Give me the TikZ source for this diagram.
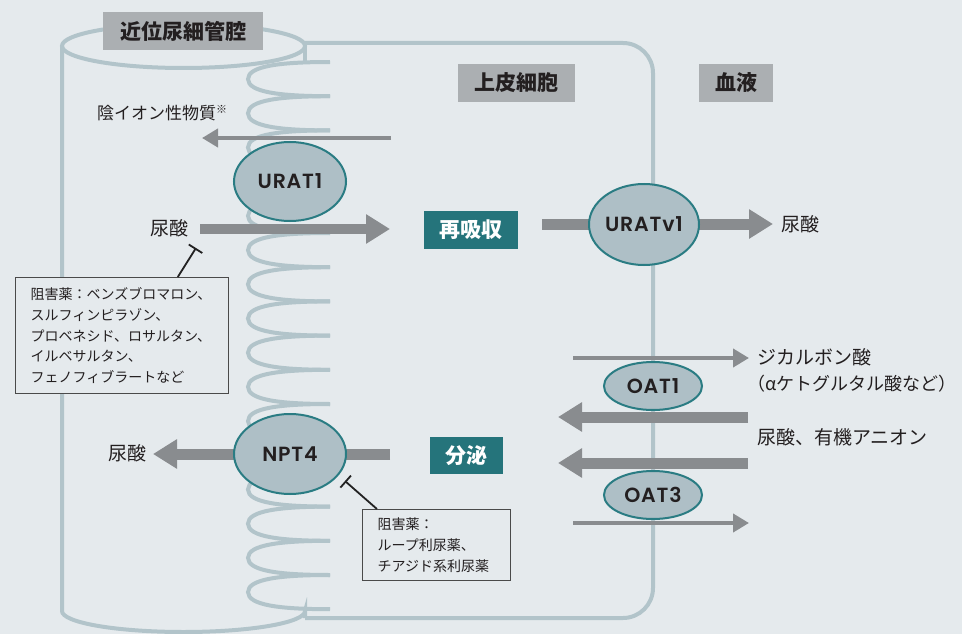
\documentclass[tikz,border=0pt]{standalone}
\usepackage{fontspec}
\setmainfont{Noto Sans CJK JP}
\newfontfamily\latf{Poppins SemiBold}[LetterSpace=4]
\usetikzlibrary{arrows.meta,shapes.geometric,calc}

\definecolor{bgc}{HTML}{E5EAED}
\definecolor{structc}{HTML}{B2C4CA}
\definecolor{ellfill}{HTML}{AEBFC6}
\definecolor{elline}{HTML}{2A7C83}
\definecolor{arrg}{HTML}{898C8F}
\definecolor{labg}{HTML}{ABAFB2}
\definecolor{tealc}{HTML}{25747B}
\definecolor{txt}{HTML}{231F20}
\definecolor{boxline}{HTML}{4A4A4A}
\definecolor{inhc}{HTML}{222222}

\tikzset{
  structline/.style={draw=structc, line width=4pt},
  thinarr/.style={draw=arrg, line width=4pt, -{Triangle[length=16pt,width=18pt]}},
  thickarr/.style={draw=arrg, line width=11pt, -{Triangle[length=24pt,width=28pt]}},
  transporter/.style={ellipse, draw=elline, line width=2pt, fill=ellfill, inner sep=0pt,
    text=txt, font=\latf\fontsize{20.5}{20.5}\selectfont},
  hdr/.style={fill=labg, text=txt, inner sep=0pt, minimum height=38pt,
    font=\fontsize{21}{21}\selectfont\bfseries},
  procbox/.style={fill=tealc, text=white, inner sep=0pt, minimum height=38pt,
    font=\fontsize{21}{21}\selectfont\bfseries},
  lbl/.style={text=txt, inner sep=0pt, font=\fontsize{19}{26}\selectfont},
  inhbox/.style={draw=boxline, line width=1.2pt, fill=bgc, align=left, text=txt,
    inner xsep=15pt, inner ysep=6pt, font=\fontsize{14}{20.7}\selectfont},
  inhib/.style={draw=inhc, line width=1.8pt, -{Bar[width=16pt,line width=1.8pt]}}
}

\begin{document}
\begin{tikzpicture}[x=1pt,y=-1pt]
\useasboundingbox (0,0) rectangle (962,634);
\fill[bgc] (0,0) rectangle (962,634);

% proximal tubule lumen (cylinder)
\draw[structline] (183.5,46) ellipse[x radius=121.5, y radius=22];
\draw[structline] (62,46) -- (62,611)
  arc[start angle=180, end angle=0, x radius=121.5, y radius=21] -- (305,618);
\draw[structline] (305,46) -- (305,62);

% epithelial cell outline
\draw[structline, rounded corners=30pt] (305,43) -- (653,43) -- (653,618) -- (305,618);

% brush border (microvilli)
\foreach \k in {0,...,15} {
  \pgfmathsetmacro\ya{62+34.2*\k}
  \pgfmathsetmacro\yb{\ya+34.2}
  \pgfmathsetmacro\ym{\ya+17.1}
  \draw[structline] (330,\ya) .. controls (280,\ya) and (248,\ya+4) .. (248,\ym)
     .. controls (248,\yb-4) and (280,\yb) .. (330,\yb);
}

% arrow end points
\coordinate (anS) at (391,138);  \coordinate (anE) at (202,138);
\coordinate (uaS) at (200,229);  \coordinate (uaE) at (390,229);
\coordinate (uvS) at (542,224);  \coordinate (uvE) at (773,224);
\coordinate (npS) at (390,454);  \coordinate (npE) at (153,454);
\coordinate (o1S) at (573,358);  \coordinate (o1E) at (749,358);
\coordinate (o2S) at (748,417);  \coordinate (o2E) at (558,417);
\coordinate (o3S) at (748,463);  \coordinate (o3E) at (558,463);
\coordinate (o4S) at (573,523);  \coordinate (o4E) at (749,523);

\draw[thinarr] (anS) -- (anE);
\draw[thickarr, line width=10pt] (uaS) -- (uaE);
\draw[thickarr] (uvS) -- (uvE);
\draw[thickarr] (npS) -- (npE);
\draw[thinarr] (o1S) -- (o1E);
\draw[thickarr] (o2S) -- (o2E);
\draw[thickarr] (o3S) -- (o3E);
\draw[thinarr] (o4S) -- (o4E);

% transporters
\node[transporter, minimum width=112pt, minimum height=79pt] (urat1) at (290,181.5) {URAT1};
\node[transporter, minimum width=110pt, minimum height=81pt] (uratv1) at (644,224.5) {URATv1};
\node[transporter, minimum width=112pt, minimum height=80pt] (npt4) at (290,454) {NPT4};
\node[transporter, minimum width=98pt, minimum height=48pt] (oat1) at (653,386) {OAT1};
\node[transporter, minimum width=98pt, minimum height=48pt] (oat3) at (653,495) {OAT3};

% region headings
\node[hdr, minimum width=160pt] (lumen) at (183,31) {近位尿細管腔};
\node[hdr, minimum width=117pt] (cell) at (516.5,83) {上皮細胞};
\node[hdr, minimum width=74pt] (blood) at (736,83) {血液};

% processes
\node[procbox, minimum width=94pt] (reabs) at (471,230) {再吸収};
\node[procbox, minimum width=73pt, minimum height=37pt] (secr) at (466.5,455.5) {分泌};

% substrate labels
\node[lbl, anchor=west, font=\fontsize{17}{17}\selectfont] (anion) at (97,113)
  {陰イオン性物質\raisebox{6pt}{\fontsize{11}{11}\selectfont ※}};
\node[lbl, anchor=east] (ualeft) at (189,228) {尿酸};
\node[lbl, anchor=west] (uaright) at (781,224) {尿酸};
\node[lbl, anchor=east] (uanpt) at (147,453) {尿酸};
\node[lbl, anchor=west, align=left] (dicarb) at (757,370)
  {ジカルボン酸\\{\fontsize{18}{26}\selectfont\kern-10pt（αケトグルタル酸など）\kern-8pt}};
\node[lbl, anchor=west] (organ) at (757,437) {尿酸、有機アニオン};

% inhibitors
\node[inhbox, text width=183pt, minimum height=116pt, anchor=north west] (inhA) at (15,277)
  {阻害薬：ベンズブロマロン、\\スルフィンピラゾン、\\プロベネシド、ロサルタン、\\イルベサルタン、\\フェノフィブラートなど};
\node[inhbox, text width=118pt, minimum height=71pt, anchor=north west] (inhB) at (362,509)
  {阻害薬：\\ループ利尿薬、\\チアジド系利尿薬};

\coordinate (tA) at (196,248);
\coordinate (tB) at (345,481);
\draw[inhib] ($(inhA.north west)!0.76!(inhA.north east)$) -- (tA);
\draw[inhib] ($(inhB.north west)!0.1!(inhB.north east)$) -- (tB);
\end{tikzpicture}
\end{document}
